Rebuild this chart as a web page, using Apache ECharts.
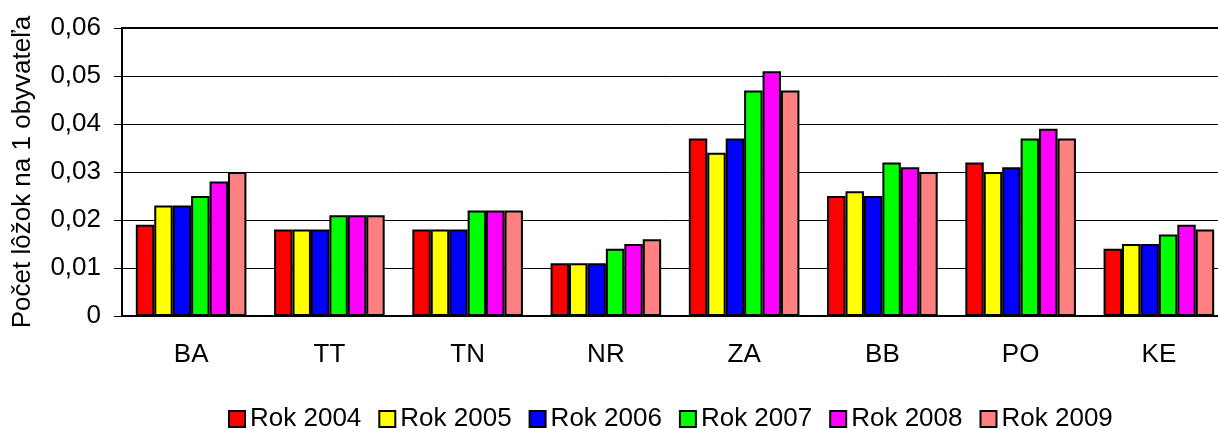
<!DOCTYPE html>
<html>
<head>
<meta charset="utf-8">
<script src="https://cdn.jsdelivr.net/npm/echarts@6/dist/echarts.min.js"></script>
<style>
  html, body { margin: 0; padding: 0; background: #fff; }
  #chart { width: 1218px; height: 429px; }
</style>
</head>
<body>
<div id="chart"></div>
<script>
// kraje
const regions = ['BA', 'TT', 'TN', 'NR', 'ZA', 'BB', 'PO', 'KE']
const yearNames = ['Rok 2004', 'Rok 2005', 'Rok 2006', 'Rok 2007', 'Rok 2008', 'Rok 2009']
const yearColors = ['#ff0000', '#ffff00', '#0000ff', '#00ff00', '#ff00ff', '#ff8080']

// počet lôžok na 1 obyvateľa, po rokoch
const rok2004 = [0.019, 0.018, 0.018, 0.011, 0.037, 0.025, 0.032, 0.014]
const rok2005 = [0.023, 0.018, 0.018, 0.011, 0.034, 0.026, 0.030, 0.015]
const rok2006 = [0.023, 0.018, 0.018, 0.011, 0.037, 0.025, 0.031, 0.015]
const rok2007 = [0.025, 0.021, 0.022, 0.014, 0.047, 0.032, 0.037, 0.017]
const rok2008 = [0.028, 0.021, 0.022, 0.015, 0.051, 0.031, 0.039, 0.019]
const rok2009 = [0.030, 0.021, 0.022, 0.016, 0.047, 0.030, 0.037, 0.018]
const allYears = [rok2004, rok2005, rok2006, rok2007, rok2008, rok2009]

const font = 'Liberation Sans, Arial, sans-serif'
const fs = 26

const chart = echarts.init(document.getElementById('chart'))

chart.setOption({
  animation: false,
  textStyle: { fontFamily: font, color: '#000' },
  grid: {
    left: 122, top: 28, width: 1106, height: 288,
    show: true, borderColor: '#000', borderWidth: 2,
    outerBoundsMode: 'none'
  },
  legend: {
    top: 406,
    left: 228,
    padding: 0,
    icon: 'rect',
    itemWidth: 16,
    itemHeight: 16,
    itemGap: 17,
    textStyle: { fontFamily: font, fontSize: fs, color: '#000' },
    itemStyle: { borderColor: '#000', borderWidth: 2 }
  },
  xAxis: {
    type: 'category',
    data: regions,
    axisLine: { lineStyle: { color: '#000', width: 1 } },
    axisTick: { length: 8, lineStyle: { color: '#000' } },
    axisLabel: { fontFamily: font, fontSize: fs, color: '#000', margin: 26 }
  },
  yAxis: {
    type: 'value',
    min: 0,
    max: 0.06,
    interval: 0.01,
    name: 'Počet lôžok na 1 obyvateľa',
    nameLocation: 'middle',
    nameGap: 86,
    nameTextStyle: { fontFamily: font, fontSize: fs, color: '#000' },
    axisLine: { show: true, lineStyle: { color: '#000', width: 1 } },
    axisTick: { show: true, length: 8, lineStyle: { color: '#000' } },
    axisLabel: {
      fontFamily: font, fontSize: fs, color: '#000', margin: 21,
      formatter: v => v === 0 ? '0' : v.toFixed(2).replace('.', ',')
    },
    splitLine: { lineStyle: { color: '#000', width: 1 } }
  },
  series: allYears.map((vals, i) => ({
    name: yearNames[i],
    type: 'bar',
    data: vals,
    barGap: '0%',
    barCategoryGap: '20%',
    itemStyle: { color: yearColors[i], borderColor: '#000', borderWidth: 2 }
  }))
})
</script>
</body>
</html>
